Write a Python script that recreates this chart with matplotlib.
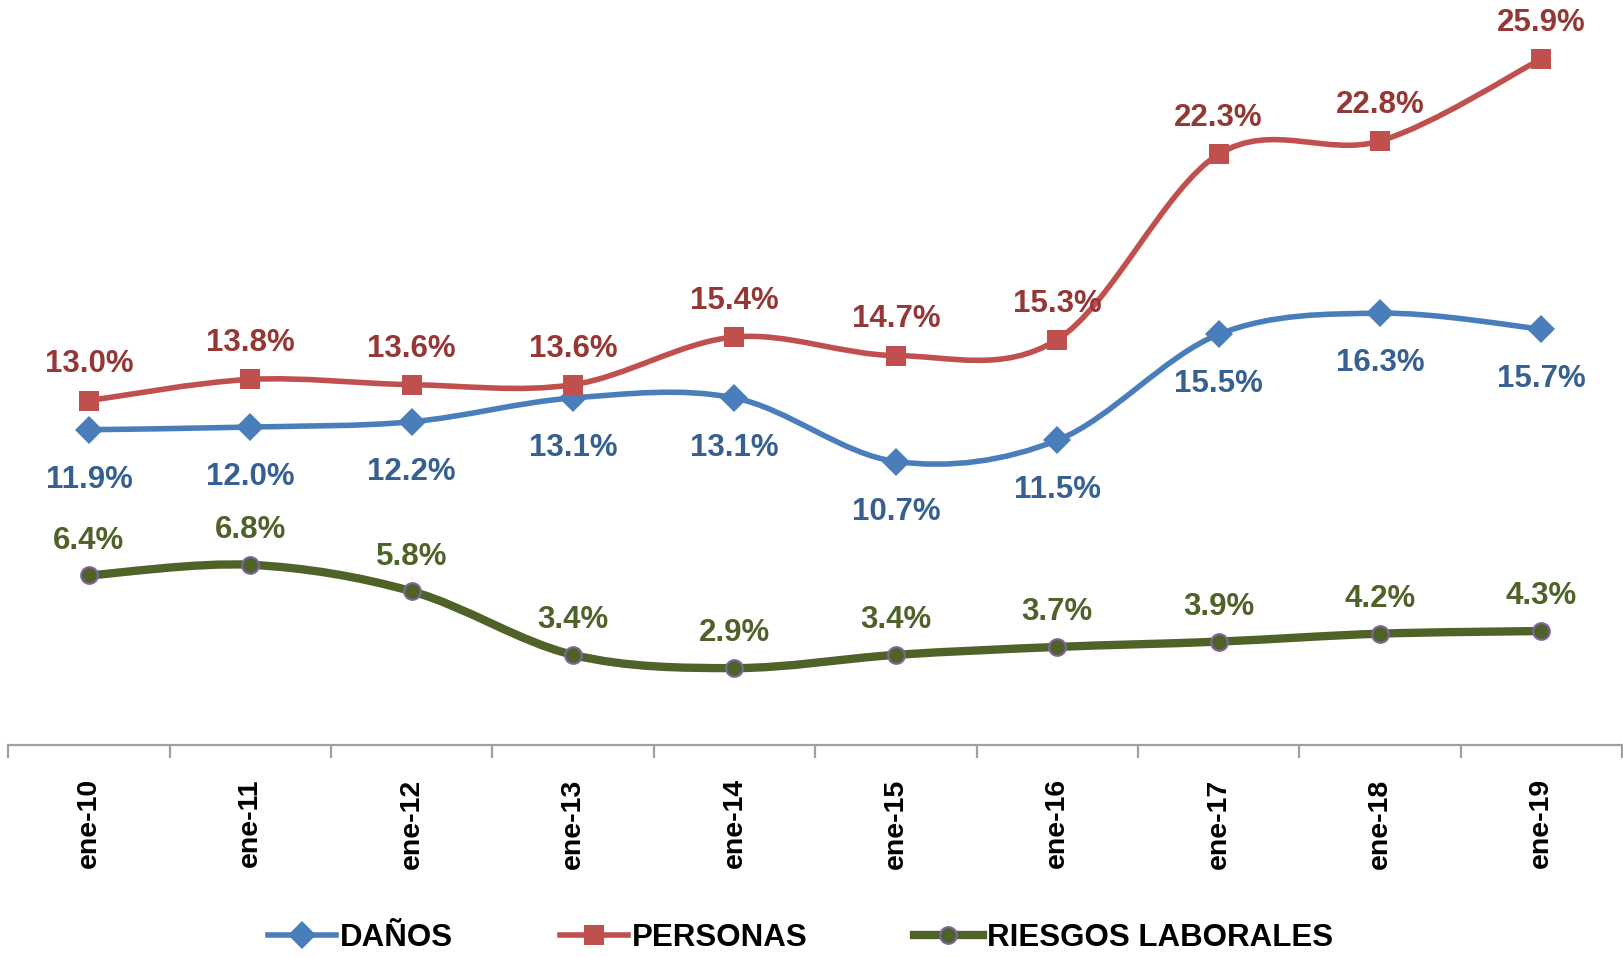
import numpy as np
import matplotlib
matplotlib.use("Agg")
import matplotlib.pyplot as plt
from matplotlib.path import Path
from matplotlib.patches import PathPatch
from matplotlib.lines import Line2D

plt.rcParams['font.family'] = ['Liberation Sans', 'DejaVu Sans']

categories = ["ene-10", "ene-11", "ene-12", "ene-13", "ene-14",
              "ene-15", "ene-16", "ene-17", "ene-18", "ene-19"]
danos = [11.9, 12.0, 12.2, 13.1, 13.1, 10.7, 11.5, 15.5, 16.3, 15.7]
personas = [13.0, 13.8, 13.6, 13.6, 15.4, 14.7, 15.3, 22.3, 22.8, 25.9]
riesgos = [6.4, 6.8, 5.8, 3.4, 2.9, 3.4, 3.7, 3.9, 4.2, 4.3]


def smooth_path(xs, ys):
    # Excel-style smoothed line: cubic Bezier through every point
    pts = np.column_stack([xs, ys]).astype(float)
    n = len(pts)
    verts = [pts[0]]
    codes = [Path.MOVETO]
    for i in range(n - 1):
        p0 = pts[max(i - 1, 0)]
        p1 = pts[i]
        p2 = pts[i + 1]
        p3 = pts[min(i + 2, n - 1)]
        verts += [p1 + (p2 - p0) / 6, p2 - (p3 - p1) / 6, p2]
        codes += [Path.CURVE4] * 3
    return Path(verts, codes)


fig = plt.figure(figsize=(16.23, 9.57), dpi=100)
ax = fig.add_axes([0.0051, 0.2216, 0.9943, 0.775])

x = np.arange(len(categories))

series = [
    ("DAÑOS", danos, "#4A7EBB", "#376092", "D", 14, 4.0, "#4A7EBB", -36),
    ("PERSONAS", personas, "#C0504D", "#953735", "s", 14, 4.0, "#C0504D", 26),
    ("RIESGOS LABORALES", riesgos, "#4F6228", "#4F6228", "o", 12, 6.0, "#8064A2", 25),
]

handles = []
for name, vals, col, tcol, mk, ms, lw, mec, off in series:
    ax.add_patch(PathPatch(smooth_path(x, vals), facecolor="none", edgecolor=col,
                           lw=lw, capstyle="round", joinstyle="round", zorder=2))
    ax.plot(x, vals, linestyle="none", marker=mk, ms=ms, color=col,
            mec=mec, mew=1.5 if mk == "o" else 0, zorder=3)
    for xi, v in zip(x, vals):
        ax.annotate(f"{v:.1f}%", (xi, v), xytext=(0, off), textcoords="offset points",
                    ha="center", va="center", fontsize=22.5, fontweight="bold",
                    color=tcol, zorder=4)
    handles.append(Line2D([], [], color=col, lw=lw, marker=mk, ms=ms,
                          mec=mec, mew=1.5 if mk == "o" else 0))

ax.set_xlim(-0.5, len(categories) - 0.5)
ax.set_ylim(0, 28)

for s in ["top", "right", "left"]:
    ax.spines[s].set_visible(False)
ax.spines["bottom"].set_color("#A0A0A0")
ax.spines["bottom"].set_linewidth(1.6)
ax.set_yticks([])

ax.set_xticks(x)
ax.set_xticklabels(categories, rotation=90, fontsize=20.5, fontweight="bold")
ax.tick_params(axis="x", which="major", length=0, pad=24)
ax.set_xticks(np.arange(-0.5, len(categories)), minor=True)
ax.tick_params(axis="x", which="minor", length=9, width=1.6, color="#A0A0A0")

fig.legend(handles, [s[0] for s in series], loc="center", bbox_to_anchor=(0.493, 0.02),
           ncol=3, frameon=False, handlelength=2.2, handletextpad=0.12,
           columnspacing=3.4, borderpad=0.1, prop={"size": 22.5, "weight": "bold"})

fig.savefig("out.png", dpi=100)
